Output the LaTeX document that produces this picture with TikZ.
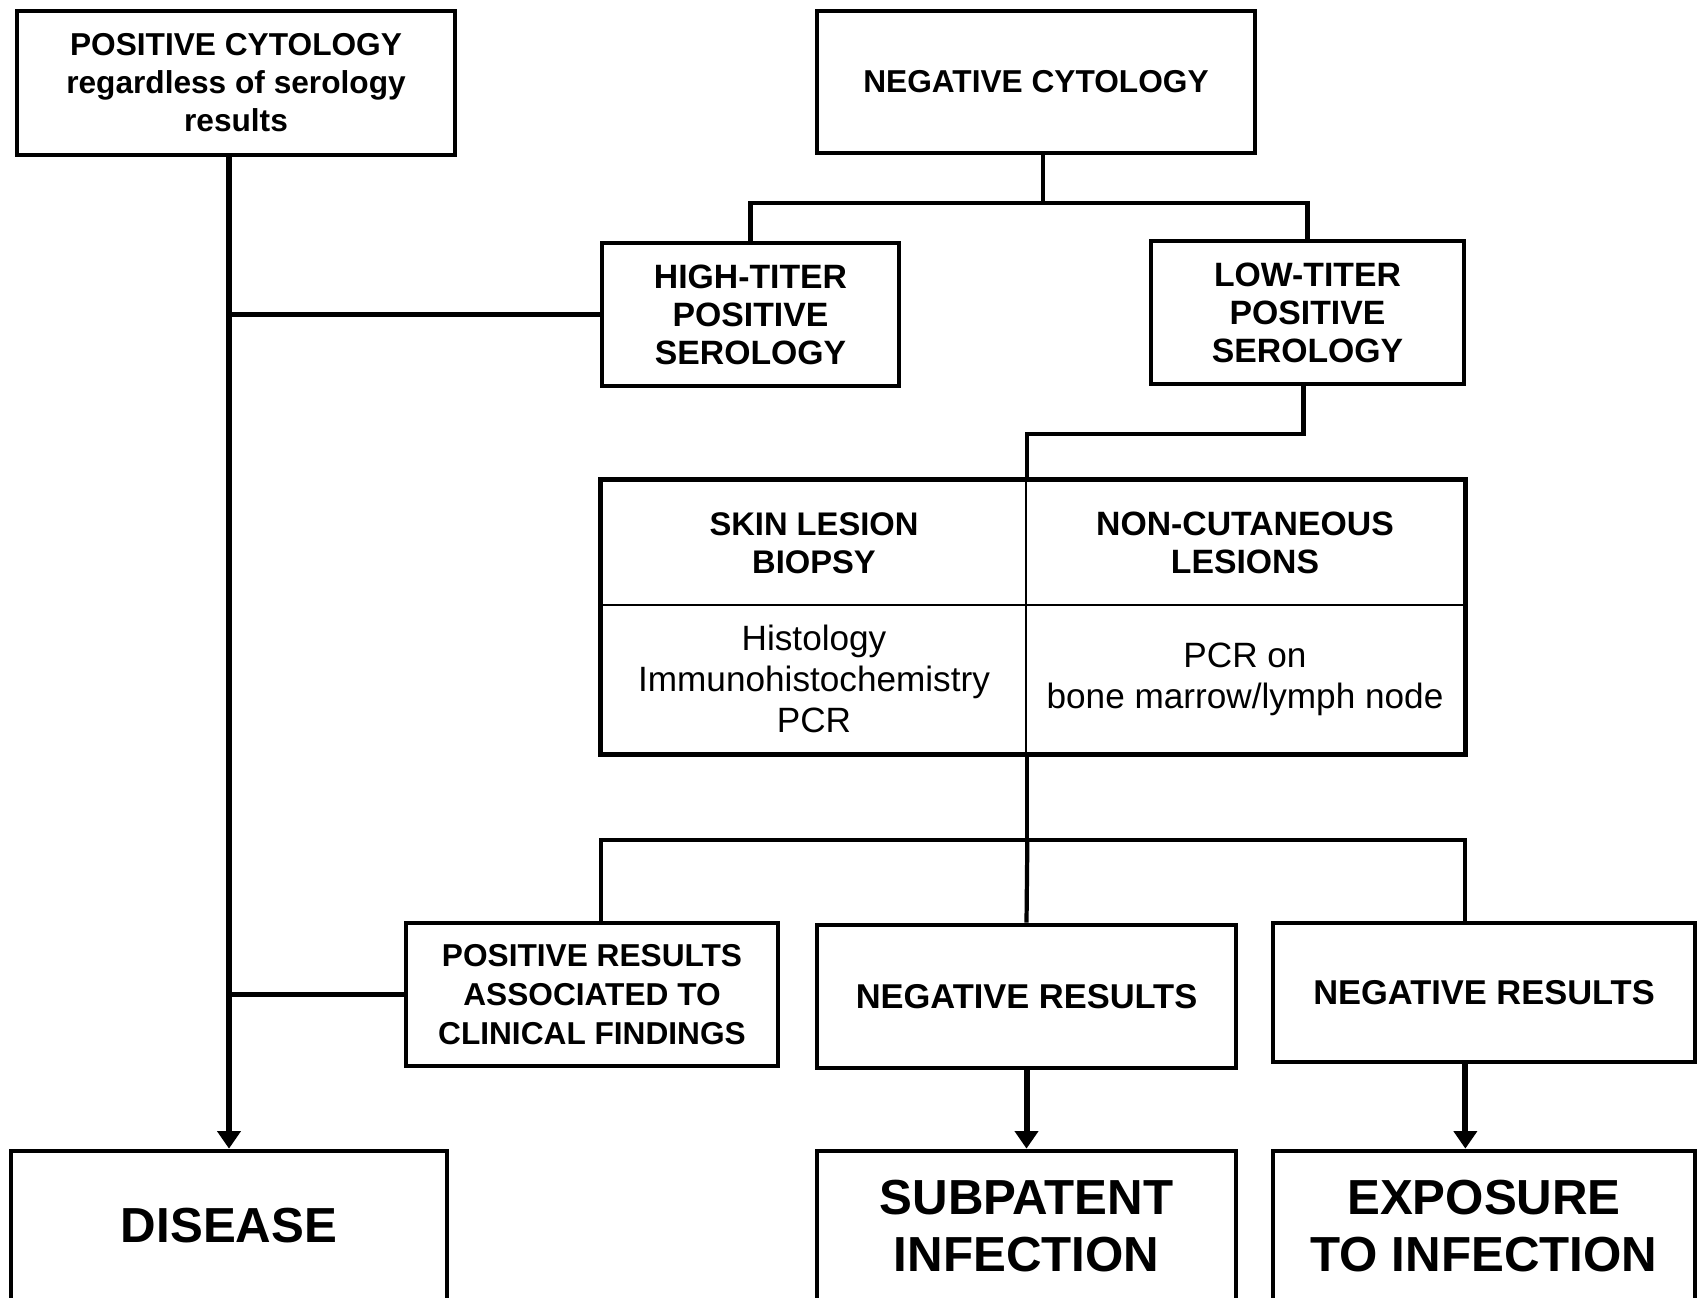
\documentclass[tikz,border=0pt]{standalone}
\usepackage{fontspec}
\setmainfont{Liberation Sans}
\usetikzlibrary{arrows.meta}

\tikzset{
  box/.style={draw, line width=1.3pt, align=center, inner sep=0pt},
  cell/.style={draw, line width=0.7pt, align=center, inner sep=0pt},
  link/.style={line width=1.2pt},
  down/.style={line width=1.7pt, -{Triangle[width=6.5pt,length=5pt]}},
}

\begin{document}
\begin{tikzpicture}[x=0.01cm, y=-0.01cm]
\useasboundingbox (0,0) rectangle (1703,1298);

% Cytology boxes
\node[box, minimum width=4.38cm, minimum height=1.44cm, font=\bfseries\fontsize{9}{10.8}\selectfont] (poscyto) at (236,83) {POSITIVE CYTOLOGY\\regardless of serology\\results};
\node[box, minimum width=4.38cm, minimum height=1.42cm, font=\bfseries\fontsize{9}{10.8}\selectfont] (negcyto) at (1036,82) {NEGATIVE CYTOLOGY};

% Serology boxes
\node[box, minimum width=2.97cm, minimum height=1.43cm, font=\bfseries\fontsize{9.6}{10.8}\selectfont] (hightiter) at (750.5,314.5) {HIGH-TITER\\POSITIVE\\SEROLOGY};
\node[box, minimum width=3.13cm, minimum height=1.43cm, font=\bfseries\fontsize{9.6}{10.8}\selectfont] (lowtiter) at (1307.5,312.5) {LOW-TITER\\POSITIVE\\SEROLOGY};

% Table of tests
\node[cell, minimum width=4.24cm, minimum height=1.24cm, font=\bfseries\fontsize{9.3}{10.8}\selectfont] (skin) at (814,543) {SKIN LESION\\BIOPSY};
\node[cell, minimum width=4.38cm, minimum height=1.24cm, font=\bfseries\fontsize{9.6}{10.8}\selectfont] (noncut) at (1245,543) {NON-CUTANEOUS\\LESIONS};
\node[cell, minimum width=4.24cm, minimum height=1.48cm, font=\fontsize{10}{11.7}\selectfont] (histo) at (814,679) {Histology\\Immunohistochemistry\\PCR};
\node[cell, minimum width=4.38cm, minimum height=1.48cm, font=\fontsize{10}{11.7}\selectfont] (pcr) at (1245,679) {PCR on\\bone marrow/lymph node};
\draw[line width=1.3pt] (skin.north west) rectangle (pcr.south east);

% Results
\node[box, minimum width=3.72cm, minimum height=1.43cm, font=\bfseries\fontsize{9}{11}\selectfont] (posres) at (592,994.5) {POSITIVE RESULTS\\ASSOCIATED TO\\CLINICAL FINDINGS};
\node[box, minimum width=4.19cm, minimum height=1.43cm, font=\bfseries\fontsize{9.8}{11}\selectfont] (negres1) at (1026.5,996.5) {NEGATIVE RESULTS};
\node[box, minimum width=4.22cm, minimum height=1.39cm, font=\bfseries\fontsize{9.8}{11}\selectfont] (negres2) at (1484,992.5) {NEGATIVE RESULTS};

% Outcomes
\node[box, minimum width=4.36cm, minimum height=1.50cm, font=\bfseries\fontsize{14}{16.3}\selectfont] (disease) at (229,1226) {DISEASE};
\node[box, minimum width=4.19cm, minimum height=1.50cm, font=\bfseries\fontsize{14}{16.3}\selectfont] (subpatent) at (1026.5,1226) {SUBPATENT\\INFECTION};
\node[box, minimum width=4.22cm, minimum height=1.50cm, font=\bfseries\fontsize{14}{16.3}\selectfont] (exposure) at (1484,1226) {EXPOSURE\\TO INFECTION};

% Left trunk
\draw[down] (poscyto.south -| disease.north) -- (disease.north);
\draw[link] (hightiter.west) -- (hightiter.west -| disease.north);
\draw[link] (posres.west) -- (posres.west -| disease.north);

% Negative cytology branches
\draw[link] ([xshift=0.07cm]negcyto.south) -- ++(0,48) coordinate (split1);
\draw[link] (hightiter.north) |- (split1) -| (lowtiter.north);
\draw[link] ([xshift=-0.04cm]lowtiter.south) -- ++(0,48) -| (skin.north east);

% Table to results
\draw[link] (histo.south east) -- ++(0,86) coordinate (split2);
\draw[link] (histo.south west |- posres.north) |- (split2) -| (pcr.south east |- negres2.north);
\draw[link] (split2) -- (negres1.north);

% Results to outcomes
\draw[down] (negres1.south) -- (subpatent.north);
\draw[down] (negres2.south -| pcr.south east) -- (exposure.north -| pcr.south east);

\end{tikzpicture}
\end{document}
